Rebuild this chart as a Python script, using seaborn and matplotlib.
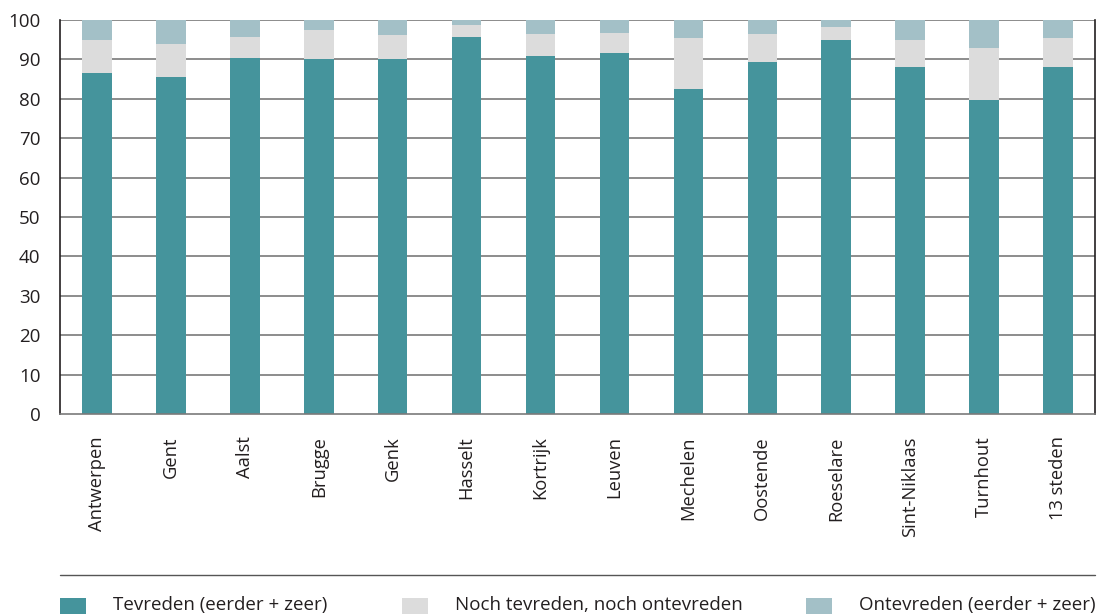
import matplotlib
matplotlib.use("Agg")
import matplotlib.pyplot as plt
import seaborn as sns
import numpy as np
import pandas as pd
from matplotlib.lines import Line2D

cities = ["Antwerpen", "Gent", "Aalst", "Brugge", "Genk", "Hasselt", "Kortrijk",
          "Leuven", "Mechelen", "Oostende", "Roeselare", "Sint-Niklaas", "Turnhout", "13 steden"]
tevreden = [86.6, 85.6, 90.3, 90.1, 90.1, 95.7, 90.8, 91.6, 82.5, 89.3, 94.9, 88.1, 79.7, 88.1]
noch = [8.3, 8.4, 5.5, 7.4, 6.2, 3.0, 5.6, 5.1, 12.9, 7.1, 3.3, 6.8, 13.2, 7.3]
ontevreden = [5.1, 6.0, 4.2, 2.5, 3.7, 1.3, 3.6, 3.3, 4.6, 3.6, 1.8, 5.1, 7.1, 4.6]
series_names = ["Tevreden (eerder + zeer)", "Noch tevreden, noch ontevreden", "Ontevreden (eerder + zeer)"]
colors = ["#45949C", "#DCDCDC", "#A3C0C7"]

sns.set_style("white")
plt.rcParams["font.family"] = ["Open Sans", "DejaVu Sans"]

df = pd.DataFrame({"stad": cities, "t": tevreden, "n": noch, "o": ontevreden})
df["c2"] = df["t"] + df["n"]
df["c3"] = df["c2"] + df["o"]

fig = plt.figure(figsize=(11.05, 6.14), dpi=100)
ax = fig.add_axes([60/1105, 1-414/614, (1095-60)/1105, (414-20)/614])

for v in range(10, 101, 10):
    ax.axhline(v, color="#6e6e6e", lw=1.1, zorder=0.5)

sns.barplot(data=df, x="stad", y="c3", color=colors[2], width=0.4, saturation=1, ax=ax, zorder=2, linewidth=0)
sns.barplot(data=df, x="stad", y="c2", color=colors[1], width=0.4, saturation=1, ax=ax, zorder=2, linewidth=0)
sns.barplot(data=df, x="stad", y="t", color=colors[0], width=0.4, saturation=1, ax=ax, zorder=2, linewidth=0)

ax.set_ylim(0, 100)
ax.set_xlim(-0.5, len(cities) - 0.5)
ax.set_yticks(range(0, 101, 10))
ax.set_xlabel("")
ax.set_ylabel("")
ax.tick_params(axis="y", length=0, pad=14, labelsize=13.5, labelcolor="#231F20")
ax.tick_params(axis="x", which="major", length=0, pad=16, labelsize=13.2, labelcolor="#231F20")
ax.set_xticks(range(len(cities)))
ax.set_xticklabels(cities, rotation=90, va="top", ha="center")
ax.set_xticks(np.arange(0.5, len(cities) - 1, 1.0), minor=True)
ax.tick_params(axis="x", which="minor", direction="in", length=12, width=1, color="#555555")

ax.spines["top"].set_visible(False)
ax.spines["left"].set_color("#231F20")
ax.spines["left"].set_linewidth(1.2)
ax.spines["right"].set_color("#231F20")
ax.spines["right"].set_linewidth(1.2)
ax.spines["bottom"].set_color("#7a7a7a")
ax.spines["bottom"].set_linewidth(1.2)

fig.add_artist(Line2D([60/1105, 1095/1105], [1-575/614, 1-575/614], color="#555555", lw=1.0,
                      transform=fig.transFigure))

xs = [60, 402, 806]
for c, name, x in zip(colors, series_names, xs):
    fig.patches.append(plt.Rectangle((x/1105, 0.0), 26/1105, 16/614, transform=fig.transFigure,
                                     facecolor=c, edgecolor="none"))
    fig.text((x + 53)/1105, 1-605/614, name, fontsize=13.5, color="#231F20", va="center", ha="left")

fig.savefig("out.png", dpi=100)
